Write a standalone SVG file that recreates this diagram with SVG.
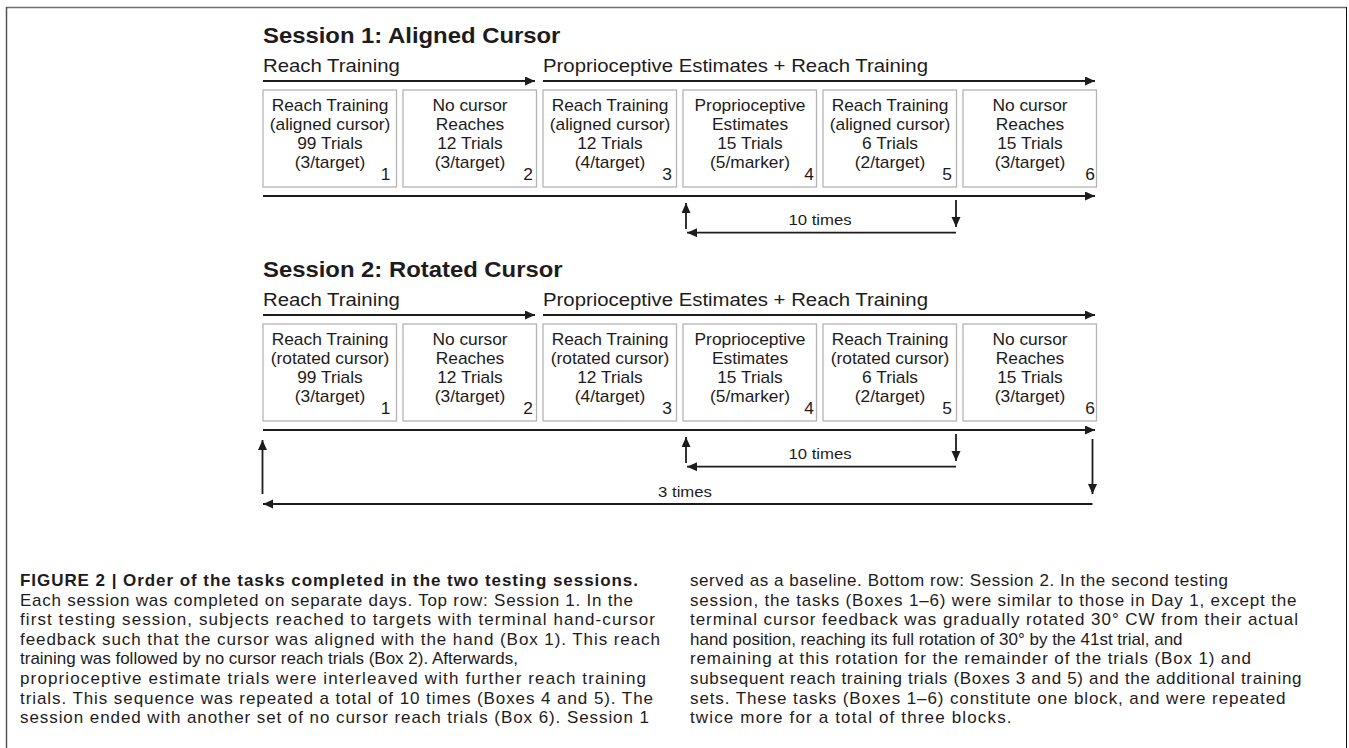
<svg xmlns="http://www.w3.org/2000/svg" width="1349" height="748" viewBox="0 0 1349 748">
<style>
text{font-family:"Liberation Sans",Arial,Helvetica,sans-serif;fill:#1e1b1c}
.ttl{font-size:21.5px;font-weight:bold}
.hd{font-size:18.5px}
.bt{font-size:16px;text-anchor:middle}
.num{font-size:16px;text-anchor:end}
.lp{font-size:15.5px;text-anchor:middle}
.box{fill:#fff;stroke:#b4b4b4;stroke-width:1.3}
.ar{fill:none;stroke:#1e1b1c;stroke-width:1.8}
.cap{font-size:17px}
.capb{font-size:17px;font-weight:bold}
</style>
<defs>
<marker id="ah" markerUnits="userSpaceOnUse" markerWidth="12" markerHeight="10" refX="10" refY="4.5" orient="auto">
<path d="M0,0 L10,4.5 L0,9 Z" fill="#1e1b1c"/>
</marker>
</defs>
<rect width="1349" height="748" fill="#fff"/>
<g id="frame">
<line x1="6.5" y1="7.5" x2="1347" y2="7.5" stroke="#707070" stroke-width="1.5"/>
<line x1="6.5" y1="7" x2="6.5" y2="748" stroke="#555" stroke-width="1.5"/>
<line x1="1346.5" y1="7" x2="1346.5" y2="748" stroke="#111" stroke-width="1"/>
</g>

<!-- Session 1 -->
<g id="s1-titles">
<text class="ttl" transform="translate(263,43.3) scale(1.11,1)">Session 1: Aligned Cursor</text>
<text class="hd" transform="translate(263,72) scale(1.1,1)">Reach Training</text>
<text class="hd" transform="translate(543,72) scale(1.1,1)">Proprioceptive Estimates + Reach Training</text>
</g>
<g id="s1-box1">
<rect class="box" x="263" y="90" width="133.5" height="97"/>
<text class="bt" transform="translate(330,111) scale(1.085,1)">Reach Training</text>
<text class="bt" transform="translate(330,130.3) scale(1.085,1)">(aligned cursor)</text>
<text class="bt" transform="translate(330,149.3) scale(1.085,1)">99 Trials</text>
<text class="bt" transform="translate(330,168.3) scale(1.085,1)">(3/target)</text>
<text class="num" transform="translate(390.5,180) scale(1.085,1)">1</text>
</g>
<g id="s1-box2">
<rect class="box" x="403" y="90" width="133.5" height="97"/>
<text class="bt" transform="translate(470,111) scale(1.085,1)">No cursor</text>
<text class="bt" transform="translate(470,130.3) scale(1.085,1)">Reaches</text>
<text class="bt" transform="translate(470,149.3) scale(1.085,1)">12 Trials</text>
<text class="bt" transform="translate(470,168.3) scale(1.085,1)">(3/target)</text>
<text class="num" transform="translate(533,180) scale(1.085,1)">2</text>
</g>
<g id="s1-box3">
<rect class="box" x="543" y="90" width="133.5" height="97"/>
<text class="bt" transform="translate(610,111) scale(1.085,1)">Reach Training</text>
<text class="bt" transform="translate(610,130.3) scale(1.085,1)">(aligned cursor)</text>
<text class="bt" transform="translate(610,149.3) scale(1.085,1)">12 Trials</text>
<text class="bt" transform="translate(610,168.3) scale(1.085,1)">(4/target)</text>
<text class="num" transform="translate(672,180) scale(1.085,1)">3</text>
</g>
<g id="s1-box4">
<rect class="box" x="683" y="90" width="133.5" height="97"/>
<text class="bt" transform="translate(750,111) scale(1.085,1)">Proprioceptive</text>
<text class="bt" transform="translate(750,130.3) scale(1.085,1)">Estimates</text>
<text class="bt" transform="translate(750,149.3) scale(1.085,1)">15 Trials</text>
<text class="bt" transform="translate(750,168.3) scale(1.085,1)">(5/marker)</text>
<text class="num" transform="translate(814,180) scale(1.085,1)">4</text>
</g>
<g id="s1-box5">
<rect class="box" x="823" y="90" width="133.5" height="97"/>
<text class="bt" transform="translate(890,111) scale(1.085,1)">Reach Training</text>
<text class="bt" transform="translate(890,130.3) scale(1.085,1)">(aligned cursor)</text>
<text class="bt" transform="translate(890,149.3) scale(1.085,1)">6 Trials</text>
<text class="bt" transform="translate(890,168.3) scale(1.085,1)">(2/target)</text>
<text class="num" transform="translate(952,180) scale(1.085,1)">5</text>
</g>
<g id="s1-box6">
<rect class="box" x="963" y="90" width="133.5" height="97"/>
<text class="bt" transform="translate(1030,111) scale(1.085,1)">No cursor</text>
<text class="bt" transform="translate(1030,130.3) scale(1.085,1)">Reaches</text>
<text class="bt" transform="translate(1030,149.3) scale(1.085,1)">15 Trials</text>
<text class="bt" transform="translate(1030,168.3) scale(1.085,1)">(3/target)</text>
<text class="num" transform="translate(1095,180) scale(1.085,1)">6</text>
</g>
<g id="s1-connectors">
<line class="ar" x1="263" y1="81" x2="535" y2="81" marker-end="url(#ah)"/>
<line class="ar" x1="543" y1="81" x2="1095" y2="81" marker-end="url(#ah)"/>
<line class="ar" x1="263" y1="196" x2="1095" y2="196" marker-end="url(#ah)"/>
<line class="ar" x1="686" y1="229" x2="686" y2="203" marker-end="url(#ah)"/>
<line class="ar" x1="956" y1="200" x2="956" y2="227" marker-end="url(#ah)"/>
<line class="ar" x1="956" y1="232.7" x2="687" y2="232.7" marker-end="url(#ah)"/>
<text class="lp" transform="translate(820,225) scale(1.08,1)">10 times</text>
</g>

<!-- Session 2 -->
<g id="s2-titles">
<text class="ttl" transform="translate(263,277.3) scale(1.11,1)">Session 2: Rotated Cursor</text>
<text class="hd" transform="translate(263,306) scale(1.1,1)">Reach Training</text>
<text class="hd" transform="translate(543,306) scale(1.1,1)">Proprioceptive Estimates + Reach Training</text>
</g>
<g id="s2-box1">
<rect class="box" x="263" y="324" width="133.5" height="97"/>
<text class="bt" transform="translate(330,345) scale(1.085,1)">Reach Training</text>
<text class="bt" transform="translate(330,364.3) scale(1.085,1)">(rotated cursor)</text>
<text class="bt" transform="translate(330,383.3) scale(1.085,1)">99 Trials</text>
<text class="bt" transform="translate(330,402.3) scale(1.085,1)">(3/target)</text>
<text class="num" transform="translate(390.5,414) scale(1.085,1)">1</text>
</g>
<g id="s2-box2">
<rect class="box" x="403" y="324" width="133.5" height="97"/>
<text class="bt" transform="translate(470,345) scale(1.085,1)">No cursor</text>
<text class="bt" transform="translate(470,364.3) scale(1.085,1)">Reaches</text>
<text class="bt" transform="translate(470,383.3) scale(1.085,1)">12 Trials</text>
<text class="bt" transform="translate(470,402.3) scale(1.085,1)">(3/target)</text>
<text class="num" transform="translate(533,414) scale(1.085,1)">2</text>
</g>
<g id="s2-box3">
<rect class="box" x="543" y="324" width="133.5" height="97"/>
<text class="bt" transform="translate(610,345) scale(1.085,1)">Reach Training</text>
<text class="bt" transform="translate(610,364.3) scale(1.085,1)">(rotated cursor)</text>
<text class="bt" transform="translate(610,383.3) scale(1.085,1)">12 Trials</text>
<text class="bt" transform="translate(610,402.3) scale(1.085,1)">(4/target)</text>
<text class="num" transform="translate(672,414) scale(1.085,1)">3</text>
</g>
<g id="s2-box4">
<rect class="box" x="683" y="324" width="133.5" height="97"/>
<text class="bt" transform="translate(750,345) scale(1.085,1)">Proprioceptive</text>
<text class="bt" transform="translate(750,364.3) scale(1.085,1)">Estimates</text>
<text class="bt" transform="translate(750,383.3) scale(1.085,1)">15 Trials</text>
<text class="bt" transform="translate(750,402.3) scale(1.085,1)">(5/marker)</text>
<text class="num" transform="translate(814,414) scale(1.085,1)">4</text>
</g>
<g id="s2-box5">
<rect class="box" x="823" y="324" width="133.5" height="97"/>
<text class="bt" transform="translate(890,345) scale(1.085,1)">Reach Training</text>
<text class="bt" transform="translate(890,364.3) scale(1.085,1)">(rotated cursor)</text>
<text class="bt" transform="translate(890,383.3) scale(1.085,1)">6 Trials</text>
<text class="bt" transform="translate(890,402.3) scale(1.085,1)">(2/target)</text>
<text class="num" transform="translate(952,414) scale(1.085,1)">5</text>
</g>
<g id="s2-box6">
<rect class="box" x="963" y="324" width="133.5" height="97"/>
<text class="bt" transform="translate(1030,345) scale(1.085,1)">No cursor</text>
<text class="bt" transform="translate(1030,364.3) scale(1.085,1)">Reaches</text>
<text class="bt" transform="translate(1030,383.3) scale(1.085,1)">15 Trials</text>
<text class="bt" transform="translate(1030,402.3) scale(1.085,1)">(3/target)</text>
<text class="num" transform="translate(1095,414) scale(1.085,1)">6</text>
</g>
<g id="s2-connectors">
<line class="ar" x1="263" y1="315" x2="535" y2="315" marker-end="url(#ah)"/>
<line class="ar" x1="543" y1="315" x2="1095" y2="315" marker-end="url(#ah)"/>
<line class="ar" x1="263" y1="430" x2="1095" y2="430" marker-end="url(#ah)"/>
<line class="ar" x1="686" y1="463" x2="686" y2="437" marker-end="url(#ah)"/>
<line class="ar" x1="956" y1="434" x2="956" y2="461" marker-end="url(#ah)"/>
<line class="ar" x1="956" y1="466.7" x2="687" y2="466.7" marker-end="url(#ah)"/>
<text class="lp" transform="translate(820,459) scale(1.08,1)">10 times</text>
<line class="ar" x1="1092.5" y1="439" x2="1092.5" y2="494" marker-end="url(#ah)"/>
<line class="ar" x1="1092.5" y1="504" x2="263" y2="504" marker-end="url(#ah)"/>
<line class="ar" x1="262.5" y1="494" x2="262.5" y2="440" marker-end="url(#ah)"/>
<text class="lp" transform="translate(685,497) scale(1.08,1)">3 times</text>
</g>

<!-- Caption -->
<g id="caption">
<text class="capb" x="20" y="586" textLength="618" lengthAdjust="spacing">FIGURE 2 | Order of the tasks completed in the two testing sessions.</text>
<text class="cap" x="20" y="605.6" textLength="613" lengthAdjust="spacing">Each session was completed on separate days. Top row: Session 1. In the</text>
<text class="cap" x="20" y="625.2" textLength="635" lengthAdjust="spacing">first testing session, subjects reached to targets with terminal hand-cursor</text>
<text class="cap" x="20" y="644.8" textLength="640" lengthAdjust="spacing">feedback such that the cursor was aligned with the hand (Box 1). This reach</text>
<text class="cap" x="20" y="664.4">training was followed by no cursor reach trials (Box 2). Afterwards,</text>
<text class="cap" x="20" y="684" textLength="626" lengthAdjust="spacing">proprioceptive estimate trials were interleaved with further reach training</text>
<text class="cap" x="20" y="703.6" textLength="633" lengthAdjust="spacing">trials. This sequence was repeated a total of 10 times (Boxes 4 and 5). The</text>
<text class="cap" x="20" y="723.2" textLength="629" lengthAdjust="spacing">session ended with another set of no cursor reach trials (Box 6). Session 1</text>
<text class="cap" x="690" y="586" textLength="538" lengthAdjust="spacing">served as a baseline. Bottom row: Session 2. In the second testing</text>
<text class="cap" x="690" y="605.6" textLength="606.5" lengthAdjust="spacing">session, the tasks (Boxes 1–6) were similar to those in Day 1, except the</text>
<text class="cap" x="690" y="625.2" textLength="608" lengthAdjust="spacing">terminal cursor feedback was gradually rotated 30° CW from their actual</text>
<text class="cap" x="690" y="644.8">hand position, reaching its full rotation of 30° by the 41st trial, and</text>
<text class="cap" x="690" y="664.4" textLength="561" lengthAdjust="spacing">remaining at this rotation for the remainder of the trials (Box 1) and</text>
<text class="cap" x="690" y="684" textLength="611.5" lengthAdjust="spacing">subsequent reach training trials (Boxes 3 and 5) and the additional training</text>
<text class="cap" x="690" y="703.6" textLength="595.5" lengthAdjust="spacing">sets. These tasks (Boxes 1–6) constitute one block, and were repeated</text>
<text class="cap" x="690" y="723.2" textLength="321.5" lengthAdjust="spacing">twice more for a total of three blocks.</text>
</g>
</svg>
